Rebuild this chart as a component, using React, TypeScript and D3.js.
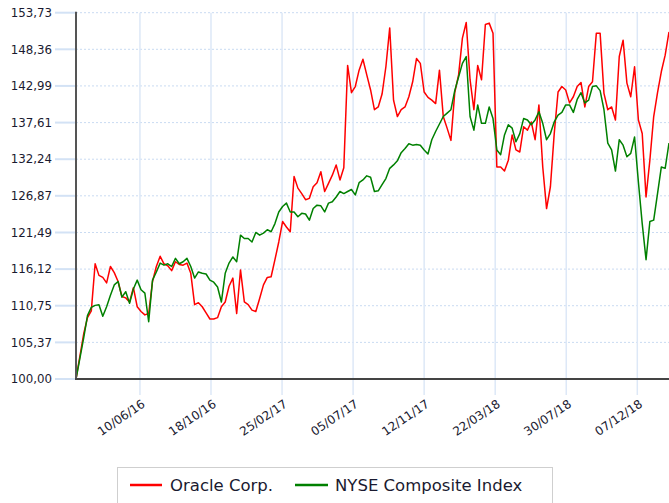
import React from "react";
import * as d3 from "d3";

const startDate = "2016-02-14";
const endDate = "2019-02-03";

const oracle = [
  100.0, 103.3, 106.6, 109.0, 110.0, 116.9, 115.2, 114.9, 114.1, 116.5,
  115.6, 114.3, 112.1, 111.9, 111.3, 113.4, 110.6, 109.9, 109.4, 109.6,
  114.3, 116.5, 118.0, 116.9, 116.6, 115.9, 117.2, 116.8, 116.7, 117.0,
  115.5, 110.9, 111.2, 110.6, 109.7, 108.8, 108.8, 109.0, 110.6, 111.3,
  113.6, 114.8, 109.6, 116.0, 111.3, 110.9, 110.1, 109.9, 111.8, 113.8,
  114.9, 115.0, 117.5, 120.1, 123.1, 122.3, 121.6, 129.7, 128.0, 127.2,
  126.3, 126.5, 128.2, 128.8, 130.4, 127.5, 128.7, 129.9, 131.4, 129.2,
  131.0, 146.0, 142.0, 142.9, 145.3, 146.9, 144.6, 142.4, 139.5, 139.9,
  141.8, 145.8, 151.5, 140.9, 138.5, 139.5, 139.9, 141.4, 143.6, 147.0,
  146.3, 142.1, 141.3, 140.9, 140.4, 145.3, 138.5, 136.8, 135.0, 142.0,
  144.6, 150.0, 152.3, 143.9, 139.5, 146.0, 143.9, 152.0, 152.2, 150.7,
  131.1, 131.1, 130.5, 132.1, 135.8, 133.6, 133.3, 137.0, 136.5, 137.7,
  135.1, 140.2, 131.1, 125.0, 128.2, 136.0, 142.1, 142.9, 142.4, 140.5,
  141.4, 142.9, 143.5, 139.9, 142.9, 143.6, 150.7, 150.7, 141.9, 139.5,
  139.9, 138.0, 147.3, 149.7, 143.4, 141.4, 145.8, 138.0, 136.0, 126.7,
  132.1, 138.5, 142.0, 145.1, 147.5, 150.9,
];

const nyse = [
  100.0, 103.0, 106.0, 109.3, 110.5, 110.8, 110.9, 109.2, 110.6, 112.3,
  113.8, 114.3, 112.0, 112.8, 111.1, 113.2, 114.5, 113.1, 112.6, 108.4,
  114.5, 115.7, 117.0, 116.7, 116.9, 116.5, 117.7, 116.9, 117.2, 117.7,
  116.5, 114.8, 115.7, 115.5, 115.4, 114.5, 114.2, 113.5, 111.3, 115.5,
  117.0, 117.9, 117.2, 121.1, 120.6, 120.6, 120.1, 121.5, 121.1, 121.4,
  121.9, 121.6, 122.8, 124.5, 125.3, 125.8, 124.5, 124.5, 123.8, 124.3,
  124.2, 123.3, 125.0, 125.5, 125.4, 124.5, 125.8, 126.0, 126.7, 127.5,
  127.2, 127.5, 127.8, 127.0, 128.8, 129.2, 129.8, 129.6, 127.5, 127.6,
  128.5, 129.4, 130.9, 131.4, 132.0, 133.2, 133.8, 134.5, 134.3, 134.4,
  134.3, 133.6, 133.0, 135.1, 136.3, 137.4, 138.5, 139.0, 139.5, 142.3,
  144.3, 146.3, 147.3, 138.5, 136.5, 140.2, 137.5, 137.5, 139.9, 138.2,
  133.6, 132.9, 135.8, 137.3, 136.8, 134.8, 136.0, 138.2, 138.0, 137.3,
  138.0, 139.2, 137.5, 135.1, 136.0, 137.7, 138.7, 139.1, 140.2, 140.2,
  139.1, 141.0, 142.0, 140.5, 140.9, 142.9, 143.0, 142.3, 139.5, 134.6,
  133.6, 130.5, 135.1, 134.3, 132.6, 133.1, 135.5, 128.9, 122.8, 117.5,
  123.1, 123.3, 127.2, 131.1, 130.9, 134.6,
];

const yTicks = [100.0, 105.37, 110.75, 116.12, 121.49, 126.87, 132.24, 137.61, 142.99, 148.36, 153.73];
const xTickDates = ["2016-06-10", "2016-10-18", "2017-02-25", "2017-07-05", "2017-11-12", "2018-03-22", "2018-07-30", "2018-12-07"];

const seriesNames = ["Oracle Corp.", "NYSE Composite Index"];
const seriesColors = ["#ff0000", "#008000"];

const W = 669;
const H = 503;
const FONT = "DejaVu Sans, Verdana, sans-serif";

export default function App() {
  const parse = d3.timeParse("%Y-%m-%d");
  const fmt = d3.timeFormat("%d/%m/%y");
  const start = parse(startDate) as Date;
  const end = parse(endDate) as Date;
  const dates = oracle.map((_, i) => d3.timeDay.offset(start, i * 7));

  const left = 76;
  const right = 669;
  const top = 12.7;
  const bottom = 379;

  const x = d3.scaleTime().domain([start, end]).range([left, right]);
  const y = d3.scaleLinear().domain([100, 153.73]).range([bottom, top]);

  const line = d3
    .line<number>()
    .x((_, i) => x(dates[i]))
    .y((d) => y(d));

  const fmtY = (v: number) => v.toFixed(2).replace(".", ",");

  return (
    <svg
      width={W}
      height={H}
      style={{ position: "absolute", left: 0, top: 0, background: "#fff" }}
    >
      {yTicks.map((t) => (
        <g key={"y" + t}>
          <line x1={55} x2={left} y1={y(t)} y2={y(t)} stroke="#d3e2f5" strokeWidth={2} />
          <line
            x1={left}
            x2={W}
            y1={y(t)}
            y2={y(t)}
            stroke="#c9dbf2"
            strokeWidth={1}
            strokeDasharray="2,2"
          />
          <text
            x={52}
            y={y(t)}
            dy="0.36em"
            textAnchor="end"
            fontFamily={FONT}
            fontSize={11.8}
            fill="#1a1a30"
          >
            {fmtY(t)}
          </text>
        </g>
      ))}
      {xTickDates.map((s) => {
        const d = parse(s) as Date;
        const xx = x(d);
        return (
          <g key={s}>
            <line x1={xx} x2={xx} y1={top} y2={395} stroke="#dde8f7" strokeWidth={1.5} />
            <text
              transform={`translate(${xx + 6},${406}) rotate(-34)`}
              textAnchor="end"
              fontFamily={FONT}
              fontSize={12}
              fill="#1a1a30"
            >
              {fmt(d)}
            </text>
          </g>
        );
      })}
      <path d={line(oracle) || ""} fill="none" stroke={seriesColors[0]} strokeWidth={1.5} strokeLinejoin="round" />
      <path d={line(nyse) || ""} fill="none" stroke={seriesColors[1]} strokeWidth={1.5} strokeLinejoin="round" />
      <line x1={left} x2={left} y1={top - 1} y2={bottom + 1} stroke="#555" strokeWidth={2} />
      <line x1={left - 1} x2={W} y1={bottom} y2={bottom} stroke="#444" strokeWidth={2} />
      <rect x={117.5} y={467.5} width={435} height={50} fill="#fff" stroke="#cfcfcf" strokeWidth={1} />
      <line x1={130} x2={162} y1={485} y2={485} stroke={seriesColors[0]} strokeWidth={2.5} />
      <text x={170} y={491} fontFamily={FONT} fontSize={16.5} fill="#1a1a30">
        {seriesNames[0]}
      </text>
      <line x1={295} x2={328} y1={485} y2={485} stroke={seriesColors[1]} strokeWidth={2.5} />
      <text x={335} y={491} fontFamily={FONT} fontSize={16.5} fill="#1a1a30">
        {seriesNames[1]}
      </text>
    </svg>
  );
}
